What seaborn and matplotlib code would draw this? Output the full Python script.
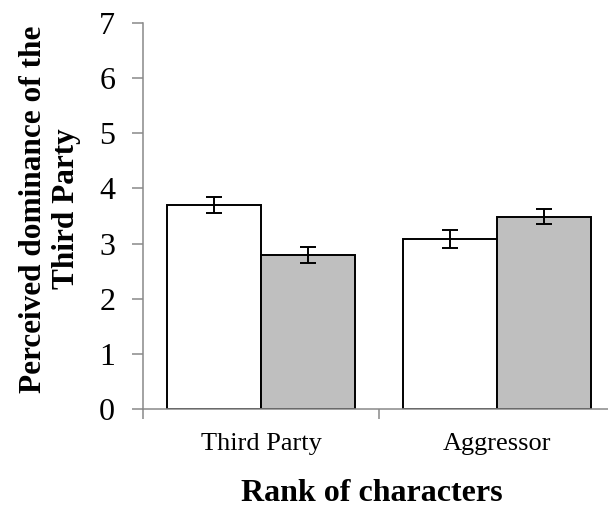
import matplotlib
matplotlib.use('Agg')
import matplotlib.pyplot as plt
import seaborn as sns
import pandas as pd

categories = ["Third Party", "Aggressor"]
conditions = ["Condition 1", "Condition 2"]
means_cond1 = [3.70, 3.09]
means_cond2 = [2.79, 3.49]
errs_cond1 = [0.15, 0.165]
errs_cond2 = [0.14, 0.14]
y_ticks = [0, 1, 2, 3, 4, 5, 6, 7]

df = pd.DataFrame({
    "rank": categories * 2,
    "cond": [conditions[0]] * 2 + [conditions[1]] * 2,
    "value": means_cond1 + means_cond2,
})
errs = {conditions[0]: errs_cond1, conditions[1]: errs_cond2}

sns.set_theme(style='white')
plt.rcParams['font.family'] = ['Liberation Serif', 'DejaVu Serif']
plt.rcParams['text.color'] = 'black'
plt.rcParams['axes.labelcolor'] = 'black'

fig = plt.figure(figsize=(6.08, 5.08), dpi=100)
ax = fig.add_axes([143/608, 99/508, 472/608, 386/508])
sns.barplot(data=df, x="rank", y="value", hue="cond", order=categories,
            hue_order=conditions, palette=['white', '#bfbfbf'],
            edgecolor='black', linewidth=1.4, width=0.8, errorbar=None,
            ax=ax, legend=False, saturation=1)

for cont, cond in zip(ax.containers, conditions):
    for bar, e in zip(cont, errs[cond]):
        xc = bar.get_x() + bar.get_width() / 2
        ax.errorbar(xc, bar.get_height(), yerr=e, fmt='none', ecolor='black',
                    elinewidth=1.4, capsize=5.5, capthick=1.4, zorder=5)

ax.set_xlim(-0.5, 1.5)
ax.set_ylim(0, 7)
ax.set_yticks(y_ticks)
ax.set_yticklabels([str(t) for t in y_ticks], fontsize=23)
ax.set_xticks([0, 1])
ax.set_xticklabels(categories, fontsize=19)
ax.set_xticks([-0.5, 0.5, 1.5], minor=True)
ax.tick_params(axis='x', which='major', bottom=True, length=0, pad=17, labelcolor='black')
ax.tick_params(axis='x', which='minor', bottom=True, length=7, width=1.1, color='#898989', direction='out')
ax.tick_params(axis='y', which='major', left=True, length=8, width=1.1, color='#898989',
               direction='out', pad=12, labelcolor='black')

for s in ['top', 'right']:
    ax.spines[s].set_visible(False)
for s in ['left', 'bottom']:
    ax.spines[s].set_color('#898989')
    ax.spines[s].set_linewidth(1.1)

ax.set_xlabel("Rank of characters", fontsize=23, fontweight='bold', color='black')
ax.xaxis.label.set_va('baseline')
ax.xaxis.set_label_coords((372 - 143) / 472, -(501 - 409) / 386)

ax.set_ylabel("Perceived dominance of the\nThird Party", fontsize=22.5, fontweight='bold',
              linespacing=1.2, color='black')
ax.yaxis.label.set_va('center')
ax.yaxis.set_label_coords((50 - 143) / 472, (409 - 209) / 386)

fig.savefig('out.png', dpi=100)
